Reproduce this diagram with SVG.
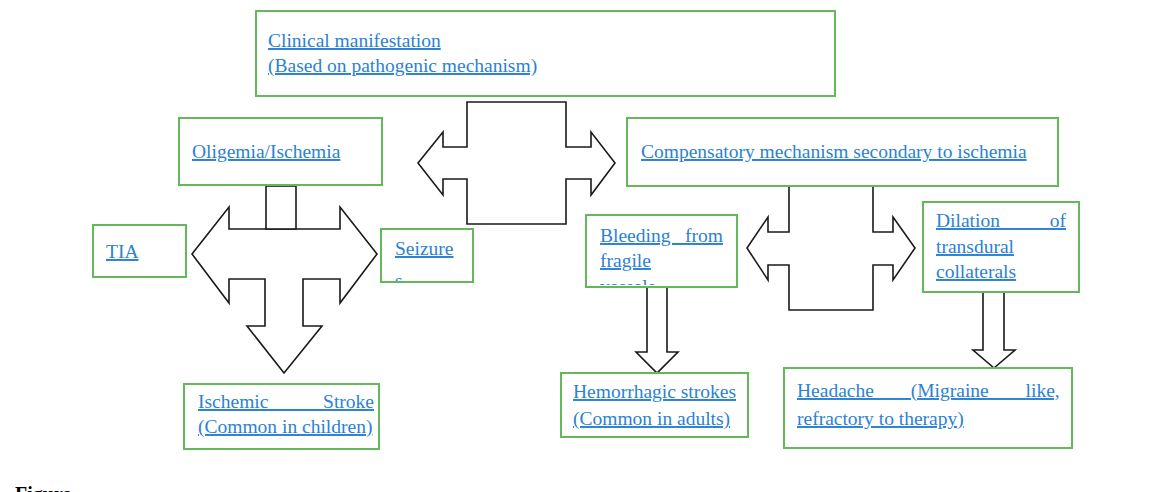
<svg xmlns="http://www.w3.org/2000/svg" width="1165" height="492" viewBox="0 0 1165 492">
  <defs>
    <style>
      .box { fill: #ffffff; stroke: #63b95a; stroke-width: 2; }
      .arr { fill: #ffffff; stroke: #1a1a1a; stroke-width: 1.6; stroke-linejoin: miter; }
      .t { font-family: "Liberation Serif", "Times New Roman", serif; font-size: 19.5px; fill: #2b82d2; text-decoration: underline; }
    </style>
    <clipPath id="clipSeizure"><rect x="381" y="229" width="92" height="52"/></clipPath>
    <clipPath id="clipBleed"><rect x="586" y="215" width="151" height="70"/></clipPath>
  </defs>
  <rect x="0" y="0" width="1165" height="492" fill="#ffffff"/>

  <g id="connectors">
    <path class="arr" d="M467,102 L566,102 L566,147 L591,147 L591,132 L615,163 L591,195 L591,179 L566,179 L566,224 L467,224 L467,179 L443,179 L443,195 L418,163 L443,132 L443,147 L467,147 Z"/>
    <path class="arr" d="M192,254 L229,207 L229,229 L340,229 L340,207 L377,254 L340,303 L340,279 L303,279 L303,326 L322,326 L284,373 L247,326 L265,326 L265,279 L229,279 L229,303 Z"/>
    <rect class="arr" x="266" y="186" width="30" height="43"/>
    <path class="arr" d="M789,186 L873,186 L873,232 L893,232 L893,217 L915,248 L893,280 L893,265 L873,265 L873,310 L789,310 L789,265 L768,265 L768,280 L747,248 L768,217 L768,232 L789,232 Z"/>
    <path class="arr" d="M647,285 L667,285 L667,352 L678,352 L657,373 L636,352 L647,352 Z"/>
    <path class="arr" d="M983,292 L1004,292 L1004,350 L1015,350 L994,368 L973,350 L983,350 Z"/>
  </g>

  <g id="clinical">
    <rect class="box" x="256" y="11" width="579" height="85"/>
    <text class="t" x="268" y="47">Clinical manifestation</text>
    <text class="t" x="268" y="72">(Based on pathogenic mechanism)</text>
  </g>

  <g id="oligemia">
    <rect class="box" x="179" y="118" width="203" height="67"/>
    <text class="t" x="192" y="158">Oligemia/Ischemia</text>
  </g>

  <g id="compensatory">
    <rect class="box" x="627" y="118" width="431" height="68"/>
    <text class="t" x="641" y="158">Compensatory mechanism secondary to ischemia</text>
  </g>

  <g id="tia">
    <rect class="box" x="93" y="225" width="93" height="52"/>
    <text class="t" x="106" y="258">TIA</text>
  </g>

  <g id="seizure">
    <rect class="box" x="381" y="229" width="92" height="53"/>
    <text class="t" x="395" y="255">Seizure</text>
    <text class="t" x="395" y="287" clip-path="url(#clipSeizure)">s</text>
  </g>

  <g id="bleeding">
    <rect class="box" x="586" y="215" width="151" height="72"/>
    <text class="t" x="600" y="242" style="word-spacing:9.8px">Bleeding from</text>
    <text class="t" x="600" y="267">fragile</text>
    <text class="t" x="600" y="293" clip-path="url(#clipBleed)">vessels</text>
  </g>

  <g id="dilation">
    <rect class="box" x="923" y="202" width="156" height="90"/>
    <text class="t" x="936" y="227" style="word-spacing:44.9px">Dilation of</text>
    <text class="t" x="936" y="253">transdural</text>
    <text class="t" x="936" y="278">collaterals</text>
  </g>

  <g id="ischemic">
    <rect class="box" x="184" y="384" width="195" height="65"/>
    <text class="t" x="198" y="408" style="word-spacing:49.8px">Ischemic Stroke</text>
    <text class="t" x="198" y="433">(Common in children)</text>
  </g>

  <g id="hemorrhagic">
    <rect class="box" x="561" y="373" width="187" height="64"/>
    <text class="t" x="573" y="398">Hemorrhagic strokes</text>
    <text class="t" x="573" y="425">(Common in adults)</text>
  </g>

  <g id="headache">
    <rect class="box" x="784" y="368" width="288" height="80"/>
    <text class="t" x="797" y="397" style="word-spacing:32px">Headache (Migraine like,</text>
    <text class="t" x="797" y="425">refractory to therapy)</text>
  </g>

  <text x="15" y="501" style="font-family:'Liberation Serif','Times New Roman',serif;font-size:20px;font-weight:bold;fill:#000">Figure</text>
</svg>
